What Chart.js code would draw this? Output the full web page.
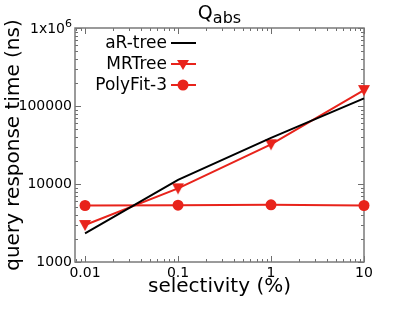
<!DOCTYPE html>
<html>
<head>
<meta charset="utf-8">
<script src="https://cdn.jsdelivr.net/npm/chart.js@4.4.1/dist/chart.umd.min.js"></script>
<style>
  html, body { margin: 0; padding: 0; background: #fff; }
  #wrap { width: 415px; height: 312px; }
</style>
</head>
<body>
<div id="wrap"><canvas id="chart"></canvas></div>
<script>
const selectivity = [0.01, 0.1, 1, 10];
const arTree = [2330, 11300, 39000, 125000];
const mrTree = [2980, 8800, 32300, 160000];
const polyFit3 = [5300, 5350, 5400, 5300];

const xTicks = [0.01, 0.1, 1, 10];
const xTickLabels = ['0.01', '0.1', '1', '10'];
const yTicks = [1000, 10000, 100000, 1000000];
const yTickLabels = ['1000', '10000', '100000', ''];  // 1x10^6 drawn with a real superscript below

const seriesNames = ['aR-tree', 'MRTree', 'PolyFit-3'];
const seriesColors = ['#000000', '#e8231b', '#e8231b'];
const seriesMarkers = [false, 'triangle', 'circle'];

const FONT = '"DejaVu Sans", Verdana, sans-serif';
const RED = '#e8231b';

const toPoints = (ys) => selectivity.map((x, i) => ({ x, y: ys[i] }));

// frame, inward ticks on all four sides, title, legend, top y label
const frameTicks = {
    id: 'frameTicks',
    beforeDatasetsDraw(chart) {
        const { ctx, chartArea: a, scales: { x, y } } = chart;
        ctx.save();
        ctx.strokeStyle = '#6e6e6e';
        ctx.lineWidth = 1;
        const drawLogTicks = (scale, horizontal) => {
            const lo = Math.floor(Math.log10(scale.min));
            const hi = Math.ceil(Math.log10(scale.max));
            for (let d = lo; d <= hi; d++) {
                for (let k = 1; k <= 9; k++) {
                    const v = k * Math.pow(10, d);
                    if (v < scale.min * 0.999 || v > scale.max * 1.001) continue;
                    const len = k === 1 ? 6 : 3;
                    const p = Math.round(scale.getPixelForValue(v)) + 0.5;
                    ctx.beginPath();
                    if (horizontal) {
                        ctx.moveTo(p, a.bottom); ctx.lineTo(p, a.bottom - len);
                        ctx.moveTo(p, a.top); ctx.lineTo(p, a.top + len);
                    } else {
                        ctx.moveTo(a.left, p); ctx.lineTo(a.left + len, p);
                        ctx.moveTo(a.right, p); ctx.lineTo(a.right - len, p);
                    }
                    ctx.stroke();
                }
            }
        };
        drawLogTicks(x, true);
        drawLogTicks(y, false);
        ctx.strokeStyle = '#7a7a7a';
        ctx.lineWidth = 1.5;
        ctx.strokeRect(a.left, a.top, a.right - a.left, a.bottom - a.top);
        ctx.restore();
    },
    afterDraw(chart) {
        const { ctx, chartArea: a, scales: { y } } = chart;
        ctx.save();
        ctx.fillStyle = '#000';

        // 1x10^6 on the top of the y axis
        const topY = y.getPixelForValue(1000000);
        ctx.textBaseline = 'alphabetic';
        ctx.textAlign = 'left';
        ctx.font = '11px ' + FONT;
        const expW = ctx.measureText('6').width;
        ctx.font = '14px ' + FONT;
        const baseW = ctx.measureText('1x10').width;
        const lx = a.left - 3 - expW - baseW;
        ctx.fillText('1x10', lx, topY + 5);
        ctx.font = '11px ' + FONT;
        ctx.fillText('6', lx + baseW, topY - 1);

        // title Q_abs
        ctx.font = '19px ' + FONT;
        const qW = ctx.measureText('Q').width;
        ctx.font = '16px ' + FONT;
        const sW = ctx.measureText('abs').width;
        const x0 = (a.left + a.right) / 2 - (qW + sW) / 2;
        ctx.font = '19px ' + FONT;
        ctx.fillText('Q', x0, 19);
        ctx.font = '16px ' + FONT;
        ctx.fillText('abs', x0 + qW, 23);

        // legend
        const rows = [43, 64, 85];
        ctx.font = '17px ' + FONT;
        ctx.textAlign = 'right';
        ctx.textBaseline = 'middle';
        seriesNames.forEach((name, i) => {
            const yy = rows[i];
            ctx.fillStyle = '#000';
            ctx.fillText(name, 167, yy + 1);
            ctx.strokeStyle = seriesColors[i];
            ctx.lineWidth = 2;
            ctx.beginPath();
            ctx.moveTo(171, yy);
            ctx.lineTo(196, yy);
            ctx.stroke();
            ctx.fillStyle = seriesColors[i];
            const mx = 183;
            if (seriesMarkers[i] === 'triangle') {
                ctx.beginPath();
                ctx.moveTo(mx - 6, yy - 4);
                ctx.lineTo(mx + 6, yy - 4);
                ctx.lineTo(mx, yy + 6);
                ctx.closePath();
                ctx.fill();
            } else if (seriesMarkers[i] === 'circle') {
                ctx.beginPath();
                ctx.arc(mx, yy, 5.5, 0, Math.PI * 2);
                ctx.fill();
            }
        });
        ctx.restore();
    }
};

// downward-pointing triangle marker
const triDown = document.createElement('canvas');
triDown.width = 14; triDown.height = 14;
(() => {
    const c = triDown.getContext('2d');
    c.fillStyle = RED;
    c.beginPath();
    c.moveTo(1, 2);
    c.lineTo(13, 2);
    c.lineTo(7, 13);
    c.closePath();
    c.fill();
})();

new Chart(document.getElementById('chart'), {
    type: 'line',
    data: {
        datasets: [
            {
                label: seriesNames[0],
                data: toPoints(arTree),
                borderColor: seriesColors[0],
                borderWidth: 2,
                pointRadius: 0,
                clip: false
            },
            {
                label: seriesNames[1],
                data: toPoints(mrTree),
                borderColor: seriesColors[1],
                borderWidth: 2,
                pointStyle: triDown,
                pointRadius: 6,
                clip: false
            },
            {
                label: seriesNames[2],
                data: toPoints(polyFit3),
                borderColor: seriesColors[2],
                backgroundColor: seriesColors[2],
                borderWidth: 2,
                pointStyle: 'circle',
                pointRadius: 5.5,
                pointBorderWidth: 0,
                clip: false
            }
        ]
    },
    options: {
        responsive: true,
        maintainAspectRatio: false,
        animation: false,
        events: [],
        layout: { padding: { top: 28, right: 51, left: 0, bottom: 0 } },
        plugins: { legend: { display: false }, title: { display: false }, tooltip: { enabled: false } },
        elements: { line: { tension: 0 } },
        scales: {
            x: {
                type: 'logarithmic',
                min: 0.0078,
                max: 10,
                grid: { display: false, drawTicks: false },
                border: { display: false },
                afterBuildTicks: (s) => { s.ticks = xTicks.map(v => ({ value: v })); },
                afterFit: (s) => { s.height = 50; },
                ticks: {
                    color: '#000',
                    padding: 3,
                    maxRotation: 0,
                    autoSkip: false,
                    font: { family: FONT, size: 14 },
                    callback: (v) => xTickLabels[xTicks.indexOf(v)] ?? ''
                },
                title: {
                    display: true,
                    text: 'selectivity (%)',
                    color: '#000',
                    font: { family: FONT, size: 20 },
                    padding: { top: 0, bottom: 13 }
                }
            },
            y: {
                type: 'logarithmic',
                min: 1000,
                max: 1000000,
                grid: { display: false, drawTicks: false },
                border: { display: false },
                afterBuildTicks: (s) => { s.ticks = yTicks.map(v => ({ value: v })); },
                afterFit: (s) => { s.width = 75; },
                ticks: {
                    color: '#000',
                    padding: 3,
                    autoSkip: false,
                    font: { family: FONT, size: 14 },
                    callback: (v) => yTickLabels[yTicks.indexOf(v)] ?? ''
                },
                title: {
                    display: true,
                    text: 'query response time (ns)',
                    color: '#000',
                    font: { family: FONT, size: 20 },
                    padding: { top: 2, bottom: 0 }
                }
            }
        }
    },
    plugins: [frameTicks]
});
</script>
</body>
</html>
